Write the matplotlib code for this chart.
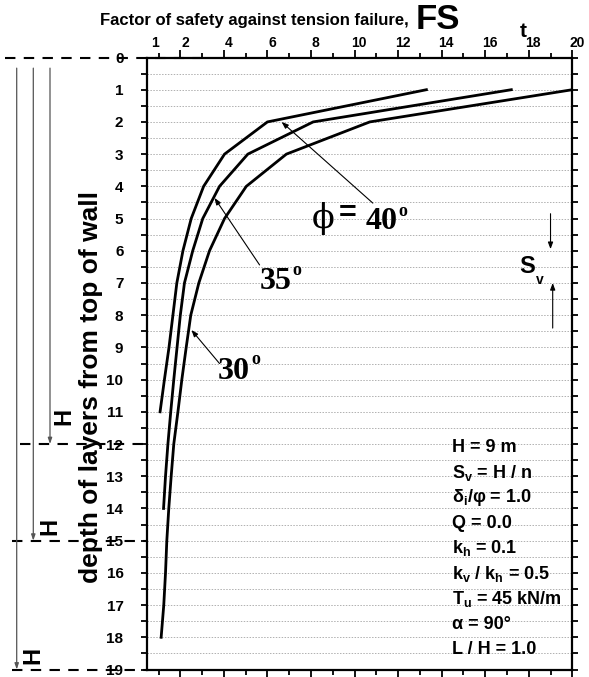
import matplotlib
matplotlib.use("Agg")
import matplotlib.pyplot as plt
import matplotlib.transforms as mtransforms
import numpy as np

plt.rcParams['font.family'] = 'Liberation Sans'
plt.rcParams['font.weight'] = 'bold'
plt.rcParams['axes.labelweight'] = 'bold'
plt.rcParams['mathtext.fontset'] = 'custom'
plt.rcParams['mathtext.rm'] = 'Liberation Sans:bold'
plt.rcParams['mathtext.it'] = 'Liberation Sans:bold'
plt.rcParams['mathtext.bf'] = 'Liberation Sans:bold'

# factor of safety FS_t at each reinforcement layer (depth index)
depth_40 = list(range(1, 12))
fs_40 = [13.3, 6.0, 4.03, 3.07, 2.5, 2.12, 1.84, 1.66, 1.48, 1.27, 1.07]

depth_35 = list(range(1, 15))
fs_35 = [17.2, 8.1, 5.1, 3.8, 3.03, 2.57, 2.19, 2.0, 1.85, 1.70, 1.56, 1.43, 1.32, 1.23]

depth_30 = list(range(1, 19))
fs_30 = [20.0, 10.7, 6.87, 5.03, 4.03, 3.34, 2.85, 2.48, 2.27, 2.07, 1.89, 1.70,
         1.58, 1.47, 1.38, 1.32, 1.24, 1.12]

x_tick_labels = [1, 2, 4, 6, 8, 10, 12, 14, 16, 18, 20]
wall_bottoms = [12, 15, 19]   # depth of wall base for H = 9 m at n = 11, 14, 18 layers

params = ["H = 9 m", "S$_v$ = H / n", "δ$_i$/φ = 1.0", "Q = 0.0", "k$_h$ = 0.1",
          "k$_v$ / k$_h$ = 0.5", "T$_u$ = 45 kN/m", "α = 90°", "L / H = 1.0"]

W, H = 589, 677
fig = plt.figure(figsize=(W / 100, H / 100), dpi=100)
ax = fig.add_axes([147 / W, 1 - 669.5 / H, (572.3 - 147) / W, (669.5 - 57.5) / H])

for d, fs in [(depth_40, fs_40), (depth_35, fs_35), (depth_30, fs_30)]:
    ax.plot(fs, d, color='black', lw=2, solid_joinstyle='miter', zorder=3)

ax.set_xlim(0.47, 20)
ax.set_ylim(19, 0)

ax.set_xticks(np.arange(1, 21))
ax.set_xticklabels([str(v) if v in x_tick_labels else '' for v in range(1, 21)])
ax.set_yticks(np.arange(0, 20))
ax.set_yticks(np.arange(0.5, 19, 1), minor=True)

ax.tick_params(axis='x', which='both', direction='out', top=True, bottom=True,
               labeltop=True, labelbottom=False, labelsize=10, pad=2, width=1.3)
ax.tick_params(axis='y', which='both', direction='out', left=True, right=True,
               labelsize=11, pad=13, width=1.3, length=4)
for i, t in enumerate(ax.xaxis.get_major_ticks()):
    v = i + 1
    t.tick1line.set_markersize(6 if v % 2 == 0 else 3.5)
    t.tick2line.set_markersize(6 if v % 2 == 0 else 3.5)

for i, lab in enumerate(ax.get_xticklabels()):
    dx = -0.04 if i == 0 else 0.045
    shift = mtransforms.ScaledTranslation(dx, 0, fig.dpi_scale_trans)
    lab.set_transform(lab.get_transform() + shift)

ax.yaxis.grid(True, which='both', linestyle=(0, (1.5, 1.5)), color='#b0b0b0', lw=0.7)
ax.set_axisbelow(True)
for s in ax.spines.values():
    s.set_linewidth(1.6)

ax.set_ylabel('depth of layers from top of wall', fontsize=19)
ax.yaxis.set_label_coords(-0.104, 0.461)

# title with FS_t
fig.text(100 / W, 1 - 25 / H, 'Factor of safety against tension failure,',
         fontsize=12, va='baseline', ha='left')
fig.text(416 / W, 1 - 29 / H, 'FS', fontsize=25, va='baseline', ha='left')
fig.text(520 / W, 1 - 37 / H, 't', fontsize=15, va='baseline', ha='left')

# curve labels
serif = 'Liberation Serif'
ax.text(8.58, 4.99, 'ϕ', fontsize=24, family='DejaVu Serif', fontweight='normal',
        ha='center', va='center')
ax.text(9.69, 4.85, '=', fontsize=22, ha='center', va='center')
ax.text(11.25, 5.08, '40', fontsize=23, family=serif, ha='center', va='center')
ax.text(12.21, 4.77, 'o', fontsize=13, family=serif, ha='center', va='center')
ax.text(6.38, 6.94, '35', fontsize=23, family=serif, ha='center', va='center')
ax.text(7.37, 6.6, 'o', fontsize=13, family=serif, ha='center', va='center')
ax.text(4.45, 9.74, '30', fontsize=23, family=serif, ha='center', va='center')
ax.text(5.46, 9.39, 'o', fontsize=13, family=serif, ha='center', va='center')

lead = dict(arrowstyle='-|>,head_length=0.4,head_width=0.15', color='black', lw=0.8,
            shrinkA=0, shrinkB=0)
ax.annotate('', xy=(6.65, 2.0), xytext=(10.84, 4.52), arrowprops=lead)
ax.annotate('', xy=(3.57, 4.36), xytext=(5.64, 6.44), arrowprops=lead)
ax.annotate('', xy=(2.51, 8.46), xytext=(3.8, 9.5), arrowprops=lead)

# layer spacing marker
ax.annotate('', xy=(19.0, 5.95), xytext=(19.0, 4.85), arrowprops=lead)
ax.annotate('', xy=(19.1, 7.0), xytext=(19.1, 8.4), arrowprops=lead)
ax.text(17.93, 6.5, 'S', fontsize=17, ha='center', va='center')
ax.text(18.5, 6.9, 'v', fontsize=10, ha='center', va='center')

# input parameters
for i, p in enumerate(params):
    ax.text(14.47, 12.1 + i * 0.785, p, fontsize=13, ha='left', va='center')

# wall height guides on the left
blend = mtransforms.blended_transform_factory(fig.transFigure, ax.transData)
dash = dict(color='black', lw=1.5, linestyle=(0, (5, 4)), clip_on=False,
            transform=blend)
ax.plot([5 / W, 200 / W], [0.03, 0.03], **dash)
starts = {12: 20, 15: 12, 19: 12}
for b in wall_bottoms:
    ax.plot([starts[b] / W, 147 / W], [b, b], **dash)

guide = dict(arrowstyle='-|>,head_length=0.35,head_width=0.12', color='#555555',
             lw=0.9, shrinkA=0, shrinkB=0)
for b, xp in zip(wall_bottoms, [50, 33.3, 16.7]):
    ax.annotate('', xy=(xp / W, b), xytext=(xp / W, 0.33), xycoords=blend,
                textcoords=blend, arrowprops=guide, annotation_clip=False)
for (xp, yp) in [(64, 416.7), (50, 526.7), (33, 655)]:
    fig.text(xp / W, 1 - yp / H, 'H', fontsize=17, rotation=90,
             ha='center', va='center')

fig.savefig('out.png', dpi=100)
